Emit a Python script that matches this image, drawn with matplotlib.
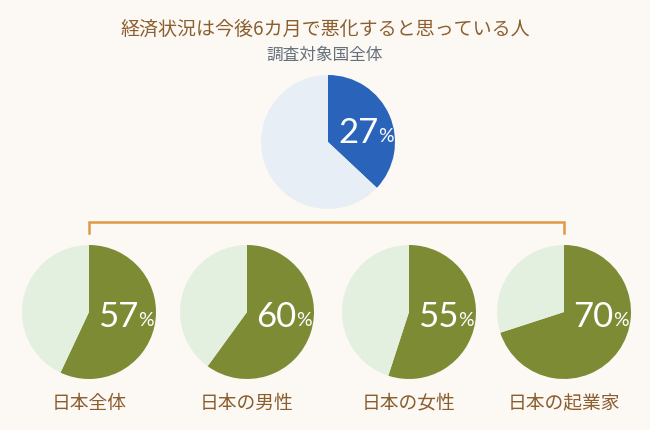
import matplotlib.pyplot as plt

plt.rcParams['font.family'] = ['Noto Sans CJK JP', 'DejaVu Sans']

title = "経済状況は今後6カ月で悪化すると思っている人"
subtitle = "調査対象国全体"

top_label = 27
top_share = 37  # wedge as drawn in the source picture
groups = ["日本全体", "日本の男性", "日本の女性", "日本の起業家"]
group_values = [57, 60, 55, 70]

bg = "#fcf9f5"
blue = "#2a64ba"
blue_light = "#e8eef6"
green = "#7e8b35"
green_light = "#e4f0df"
brown = "#8b5e2e"
gray = "#66707a"
orange = "#e09a45"

W, H = 650, 430
fig = plt.figure(figsize=(6.5, 4.3), dpi=100, facecolor=bg)
ax = fig.add_axes([0, 0, 1, 1])
ax.set_facecolor(bg)

num_font = ["Lato", "DejaVu Sans"]


def py(y):
    # pixel y (from top) -> data y
    return H - y


def pie_with_label(cx, cy, share, label, c_main, c_rest, r=67, dx=9, dy=5):
    ax.pie([share, 100 - share], colors=[c_main, c_rest], startangle=90,
           counterclock=False, center=(cx, py(cy)), radius=r,
           wedgeprops=dict(linewidth=0))
    t = ax.text(cx + dx, py(cy + dy), str(label), color="white", fontsize=25,
                family=num_font, fontweight="normal",
                ha="left", va="center")
    ax.annotate("%", xy=(1.0, 0.12), xycoords=t, color="white", fontsize=14,
                family=num_font, fontweight="normal",
                ha="left", va="bottom")


# top pie
pie_with_label(328, 142, top_share, top_label, blue, blue_light, dx=10, dy=-9)

# bottom pies
centers_x = [89, 247, 409, 564]
for x, name, v in zip(centers_x, groups, group_values):
    pie_with_label(x, 312, v, v, green, green_light)
    ax.text(x, py(403), name, color=brown, fontsize=13.5, ha="center", va="center")

# bracket
ax.plot([centers_x[0], centers_x[0], centers_x[-1], centers_x[-1]],
        [py(233), py(222), py(222), py(233)], color=orange, lw=1.8,
        solid_joinstyle="miter")

ax.text(W / 2, py(29), title, color=brown, fontsize=13.7, ha="center", va="center")
ax.text(W / 2, py(55), subtitle, color=gray, fontsize=12, ha="center", va="center")

ax.set_xlim(0, W)
ax.set_ylim(0, H)
ax.set_aspect("auto")
ax.axis("off")

fig.savefig("out.png", dpi=100, facecolor=bg)
